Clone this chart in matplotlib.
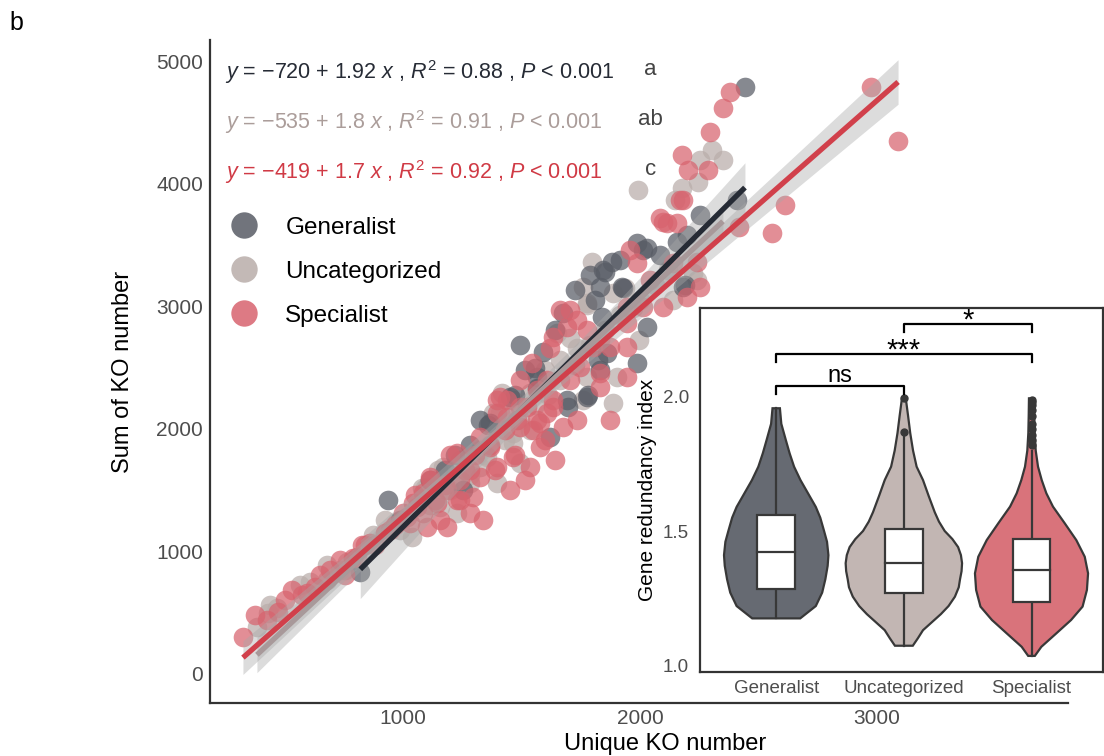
import numpy as np
import matplotlib
matplotlib.use("Agg")
import matplotlib.pyplot as plt
from matplotlib.lines import Line2D

plt.rcParams['font.family'] = ['Liberation Sans', 'DejaVu Sans']
plt.rcParams['mathtext.fontset'] = 'custom'
plt.rcParams['mathtext.rm'] = 'Liberation Sans'
plt.rcParams['mathtext.it'] = 'Liberation Sans:italic'
plt.rcParams['mathtext.bf'] = 'Liberation Sans:bold'

# ---------------- data ----------------
groups = ['Generalist', 'Uncategorized', 'Specialist']

gen_x = [937, 2443, 2409, 1844, 1831, 1810, 1675, 1566, 1692, 1831, 2030, 1988, 2182, 1861,
         1777, 1620, 1367, 2013, 1928, 1840, 1591, 1557, 1823, 1781, 1696, 1359, 1988, 2030,
         1882, 1853, 1924, 2156, 2198, 2190, 1566, 986, 1253, 1452, 1220, 1494, 820,
         1283, 1325, 1473, 1515, 1642, 1726, 1789, 1916, 2084, 2253, 1114, 1177]
gen_y = [1420, 4791, 3869, 3298, 3159, 3053, 2947, 2424, 2236, 2481, 2832, 2538, 3159, 2620,
         2261, 1934, 2049, 3461, 3151, 2914, 2628, 2498, 2563, 2277, 2179, 2032, 3518, 3477,
         3363, 3281, 3159, 3526, 3583, 3175, 2334, 1257, 1502, 2261, 1787, 2685, 830,
         1869, 2073, 2277, 2481, 2808, 3134, 3257, 3379, 3420, 3747, 1583, 1665]

unc_x = [384, 431, 469, 680, 680, 789, 874, 1038, 1080, 975, 764, 1148, 1093, 1992, 2304,
         2350, 2253, 2245, 2177, 2148, 1798, 1760, 1937, 2139, 2241, 1777, 1886, 2224, 1971,
         1777, 1903, 1578, 1464, 1464, 1355, 1169, 1283, 1998, 1777, 1650, 1705, 1734, 1663,
         1418, 1760, 1886, 1380, 1536, 1410, 1464, 1494, 1397, 1325, 1241, 1102, 1156, 1228,
         566, 734, 924, 1220, 1325, 1536, 1831, 1599,
         439, 608, 756, 988, 1114, 1199, 1283, 1346, 1431, 1494, 1557, 1612, 1663, 1726, 1789,
         1853, 1916, 2000, 2063, 2118]
unc_y = [383, 498, 539, 890, 767, 930, 1134, 1118, 1518, 1240, 914, 1665, 1518, 3951, 4277,
         4195, 4195, 4016, 3967, 3869, 3363, 3159, 3151, 3053, 3216, 3028, 3110, 3273, 2987,
         2424, 2424, 2343, 2236, 1885, 1771, 1690, 1559, 2726, 3012, 2783, 2742, 2661, 2563,
         2294, 2236, 2212, 2130, 2294, 2130, 1967, 1722, 1559, 1690, 1747, 1526, 1363, 1314,
         726, 849, 1257, 1543, 1828, 1992, 2726, 2481,
         563, 751, 849, 1175, 1379, 1502, 1624, 1788, 1910, 2073, 2196, 2277, 2400, 2522, 2685,
         2808, 2930, 3053, 3175, 3298]

spe_x = [325, 426, 473, 532, 574, 629, 827, 789, 924, 1000, 1059, 1102, 595, 806, 861, 1114,
         1156, 1199, 1410, 1494, 1566, 1633, 1228, 1325, 1114, 1085, 1042, 1017, 1283, 1536,
         1578, 1452, 1338, 1186, 1663, 1692, 1633, 1620, 1545, 1494, 1439, 1397, 1481, 1578,
         1675, 1705, 1831, 1945, 1945, 1945, 1777, 1802, 1633, 2114, 2156, 2085, 2182, 2042,
         1988, 1958, 2139, 2241, 2253, 2198, 2097, 2013, 1945, 1705, 2380, 2350, 2296, 2177,
         2203, 2287, 2169, 2097, 2612, 2557, 2418, 2975, 3089,
         692, 756, 882, 966, 1051, 1135, 1177, 1262, 1304, 1367, 1431, 1241, 1388, 1473, 1599,
         1641, 1515,
         1397, 1439, 1494, 1549, 1608, 1367, 1283, 1241, 1186, 1144, 1085, 1030, 1325, 1397,
         1464, 1296, 1228, 1734, 1874, 1747, 1608, 1566, 1523, 1734, 1874, 1831,
         376, 502, 650, 734, 840, 945]
spe_y = [302, 441, 506, 685, 645, 710, 1053, 947, 1151, 1314, 1363, 1200, 661, 955, 1069, 1583,
         1257, 1787, 2261, 2179, 2073, 2179, 1804, 1934, 1608, 1477, 1396, 1281, 1314, 1690,
         1853, 1502, 1257, 1200, 2971, 2832, 2751, 2661, 2538, 2400, 2236, 2130, 2073, 2049,
         2016, 2400, 2343, 2424, 2669, 2865, 2808, 2669, 2236, 3681, 3681, 3722, 3869, 3216,
         3355, 3461, 3355, 3363, 3159, 3077, 2996, 2996, 2996, 2971, 4751, 4620, 4424, 4236,
         4114, 4114, 3869, 3689, 3828, 3600, 3649, 4791, 4351,
         849, 808, 1053, 1216, 1461, 1420, 1543, 1665, 1788, 1869, 1992, 1420, 1665, 1788, 1910,
         1747, 1583,
         2236, 2098, 2016, 1992, 2130, 1853, 1665, 1583, 1502, 1396, 1314, 1232, 1608, 1690,
         1771, 1445, 1420, 2889, 2669, 2506, 2400, 2318, 2179, 2073, 2073, 2457,
         481, 604, 808, 930, 1053, 1175]

intercepts = [-720, -535, -419]
slopes = [1.92, 1.8, 1.7]
r2_values = [0.88, 0.91, 0.92]
p_text = ['< 0.001', '< 0.001', '< 0.001']
sig_letters = ['a', 'ab', 'c']

# violin outlines (value, half-width)
vio_vals = [
    [1.174, 1.22, 1.27, 1.32, 1.37, 1.41, 1.46, 1.50, 1.55, 1.59, 1.64, 1.69, 1.74, 1.79, 1.84, 1.90, 1.958],
    [1.072, 1.10, 1.13, 1.16, 1.19, 1.22, 1.255, 1.29, 1.32, 1.35, 1.38, 1.41, 1.44, 1.47, 1.50, 1.535,
     1.57, 1.63, 1.69, 1.74, 1.80, 1.865, 1.93, 1.995],
    [1.034, 1.068, 1.118, 1.168, 1.218, 1.28, 1.342, 1.404, 1.466, 1.529, 1.591, 1.641, 1.69, 1.74,
     1.80, 1.865, 1.93, 1.995],
]
vio_hw = [
    [0.188, 0.31, 0.36, 0.385, 0.403, 0.409, 0.398, 0.375, 0.345, 0.31, 0.25, 0.19, 0.14, 0.105, 0.075, 0.04, 0.029],
    [0.07, 0.11, 0.15, 0.22, 0.29, 0.35, 0.40, 0.43, 0.44, 0.452, 0.456, 0.447, 0.425, 0.38, 0.32, 0.275,
     0.242, 0.195, 0.15, 0.10, 0.072, 0.05, 0.033, 0.015],
    [0.026, 0.077, 0.194, 0.31, 0.40, 0.434, 0.443, 0.417, 0.351, 0.26, 0.168, 0.116, 0.08, 0.051,
     0.033, 0.025, 0.022, 0.02],
]
box_q1 = [1.284, 1.268, 1.236]
box_med = [1.423, 1.379, 1.354]
box_q3 = [1.560, 1.506, 1.469]
whisk_lo = [1.174, 1.072, 1.034]
whisk_hi = [1.958, 1.86, 1.80]
outliers = [[], [1.87, 1.995], [1.82, 1.84, 1.86, 1.88, 1.90, 1.93, 1.95, 1.97, 1.98, 1.99]]

comparisons = [(0, 1, 'ns', 2.041), (0, 2, '***', 2.159), (1, 2, '*', 2.272)]

# ---------------- styles ----------------
pt_colors = ['#585c65', '#b9adaa', '#d8636e']
line_colors = ['#262b35', '#a8999a', '#d1404b']
text_colors = ['#262b35', '#ab9d9a', '#d03a45']
vio_colors = ['#666a72', '#c2b6b3', '#d9737b']
edge = '#383838'

fig = plt.figure(figsize=(11.04, 7.56), dpi=100)
ax = fig.add_axes([210/1104, 53/756, 858/1104, 663/756])

xs = [np.array(gen_x, float), np.array(unc_x, float), np.array(spe_x, float)]
ys = [np.array(gen_y, float), np.array(unc_y, float), np.array(spe_y, float)]

for i in [1, 0, 2]:
    ax.scatter(xs[i], ys[i], s=200, color=pt_colors[i], alpha=0.72, linewidths=0, zorder=2)

for i in range(3):
    x, y = xs[i], ys[i]
    a, b = intercepts[i], slopes[i]
    n = len(x)
    resid = y - (a + b * x)
    s2 = np.sum(resid ** 2) / (n - 2)
    xbar = x.mean()
    sxx = np.sum((x - xbar) ** 2)
    xg = np.linspace(x.min(), x.max(), 200)
    fit = a + b * xg
    se = np.sqrt(s2 * (1 / n + (xg - xbar) ** 2 / sxx))
    ax.fill_between(xg, fit - 1.96 * se, fit + 1.96 * se, color='#a8a8a8', alpha=0.4,
                    linewidth=0, zorder=3)
    ax.plot(xg, fit, color=line_colors[i], lw=3.8, zorder=4, solid_capstyle='butt')

ax.set_xlim(186, 3806)
ax.set_ylim(-237, 5175)
ax.set_xticks([1000, 2000, 3000])
ax.set_yticks([0, 1000, 2000, 3000, 4000, 5000])
ax.tick_params(length=0, labelsize=15, labelcolor='#4d4d4d')
ax.tick_params(axis='y', pad=5)
ax.tick_params(axis='x', pad=4)
for s in ['top', 'right']:
    ax.spines[s].set_visible(False)
for s in ['left', 'bottom']:
    ax.spines[s].set_linewidth(1.6)
    ax.spines[s].set_color('#333333')
ax.set_xlabel('Unique KO number', fontsize=17)
ax.set_ylabel('Sum of KO number', fontsize=17)
ax.xaxis.set_label_coords(0.53, -0.045)
ax.yaxis.set_label_coords(-0.0886, 0.5)

# equations
eq_y = [0.952, 0.876, 0.801]
for i in range(3):
    txt = (r'$y$ = $-$%d + %s $x$ , $R^2$ = %.2f , $P$ %s'
           % (abs(intercepts[i]), ('%g' % slopes[i]), r2_values[i], p_text[i]))
    ax.text(0.0175, eq_y[i], txt, transform=ax.transAxes, fontsize=15.5,
            color=text_colors[i], va='center', ha='left')
    ax.text(0.513, eq_y[i] + 0.004, sig_letters[i], transform=ax.transAxes, fontsize=16,
            color='#444444', va='center', ha='center')

handles = [Line2D([], [], marker='o', ls='', markersize=19, color=pt_colors[i], alpha=0.85,
                  markeredgewidth=0) for i in range(3)]
ax.legend(handles, groups, loc='upper left', bbox_to_anchor=(0.0, 0.748), frameon=False,
          fontsize=17.5, labelspacing=0.9, handletextpad=0.7, borderaxespad=0)

fig.text(0.009, 0.97, 'b', fontsize=18, va='center')

# ---------------- inset ----------------
ins = fig.add_axes([700/1104, 84/756, 403/1104, 364/756])
ins.set_facecolor('white')
for i in range(3):
    v = np.array(vio_vals[i])
    hw = np.array(vio_hw[i])
    px = np.concatenate([i - hw, (i + hw)[::-1]])
    py = np.concatenate([v, v[::-1]])
    ins.fill(px, py, facecolor=vio_colors[i], edgecolor=edge, lw=1.6, zorder=2)
    ins.plot([i, i], [whisk_lo[i], box_q1[i]], color=edge, lw=1.6, zorder=3)
    ins.plot([i, i], [box_q3[i], whisk_hi[i]], color=edge, lw=1.6, zorder=3)
    if outliers[i]:
        ins.plot([i] * len(outliers[i]), outliers[i], 'o', color=edge, markersize=5, zorder=3)
    bw = 0.147
    ins.fill([i - bw, i + bw, i + bw, i - bw], [box_q1[i], box_q1[i], box_q3[i], box_q3[i]],
             facecolor='white', edgecolor=edge, lw=1.6, zorder=4)
    ins.plot([i - bw, i + bw], [box_med[i], box_med[i]], color=edge, lw=1.6, zorder=5)

for a_, b_, lab, yb in comparisons:
    ins.plot([a_, a_, b_, b_], [yb - 0.03, yb, yb, yb - 0.03], color='black', lw=1.6, zorder=5)
    if lab == 'ns':
        ins.text((a_ + b_) / 2, yb + 0.016, lab, ha='center', va='baseline', fontsize=17, zorder=5)
    else:
        ins.text((a_ + b_) / 2, yb - 0.015, lab, ha='center', va='baseline', fontsize=21, zorder=5)

ins.set_xlim(-0.597, 2.56)
ins.set_ylim(0.974, 2.332)
ins.set_xticks([0, 1, 2])
ins.set_xticklabels(groups)
ins.set_yticks([1.0, 1.5, 2.0])
ins.tick_params(length=0, labelsize=13.5, labelcolor='#4d4d4d')
ins.tick_params(axis='y', pad=8)
ins.tick_params(axis='x', pad=6)
for s in ins.spines.values():
    s.set_linewidth(1.6)
    s.set_color('#333333')
ins.set_ylabel('Gene redundancy index', fontsize=15)

fig.savefig('out.png', dpi=100)
